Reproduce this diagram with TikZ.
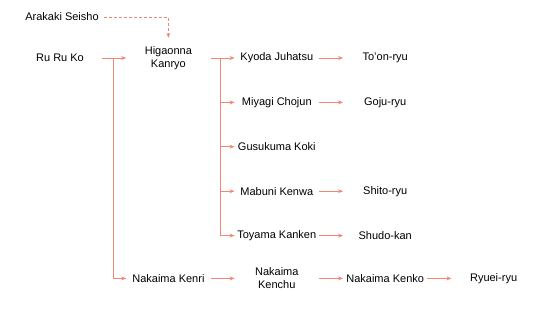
\documentclass[tikz,border=0pt]{standalone}
\usepackage{fontspec}
\setmainfont{Liberation Sans}
\usepackage{xcolor}
\definecolor{salmon}{HTML}{F08878}
\usetikzlibrary{arrows.meta,positioning,calc}

\begin{document}
\begin{tikzpicture}[x=1pt,y=-1pt,
  person/.style={align=center,minimum width=84pt,minimum height=30pt,inner sep=0pt,font=\fontsize{11}{13}\selectfont},
  link/.style={draw=salmon,line width=0.8pt},
  arr/.style={link,-{Stealth[length=5pt,width=4pt]}},
  node distance=14pt and 24pt]
\useasboundingbox (0,0) rectangle (546,321);
% teachers and schools
\node[person] (as) at (62,17) {Arakaki Seisho};
\node[person] (rrk) at (60,58) {Ru Ru Ko};
\node[person,right=of rrk] (hk) {Higaonna\\Kanryo};
\node[person,right=of hk] (kj) {Kyoda Juhatsu};
\node[person,right=of kj] (toon) {To'on-ryu};
\node[person,below=of kj] (mc) {Miyagi Chojun};
\node[person,right=of mc] (goju) {Goju-ryu};
\node[person,below=of mc] (gk) {Gusukuma Koki};
\node[person,below=of gk] (mk) {Mabuni Kenwa};
\node[person,right=of mk] (shito) {Shito-ryu};
\node[person,below=of mk] (tk) {Toyama Kanken};
\node[person,right=of tk] (shudo) {Shudo-kan};
\node[person,below=190pt of hk] (nkri) {Nakaima Kenri};
\node[person,right=of nkri] (nkc) {Nakaima\\Kenchu};
\node[person,right=of nkc] (nko) {Nakaima Kenko};
\node[person,right=of nko] (ryuei) {Ryuei-ryu};
% branch points
\coordinate (f1) at ($(rrk.east)!0.45!(hk.west)$);
\coordinate (f2) at ($(hk.east)!0.42!(kj.west)$);
% connectors
\draw[arr,dash pattern=on 3pt off 2pt,shorten >=5pt] (as.east) -| (hk.north);
\draw[arr] (rrk.east) -- (hk.west);
\draw[arr] (f1) |- (nkri.west);
\draw[arr] (hk.east) -- (kj.west);
\foreach \n in {mc,gk,mk,tk}
  \draw[arr] (f2) |- (\n.west);
\draw[arr] (kj.east) -- (toon.west);
\draw[arr] (mc.east) -- (goju.west);
\draw[arr] (mk.east) -- (shito.west);
\draw[arr] (tk.east) -- (shudo.west);
\draw[arr] (nkri.east) -- (nkc.west);
\draw[arr] (nkc.east) -- (nko.west);
\draw[arr] (nko.east) -- (ryuei.west);
\end{tikzpicture}
\end{document}
